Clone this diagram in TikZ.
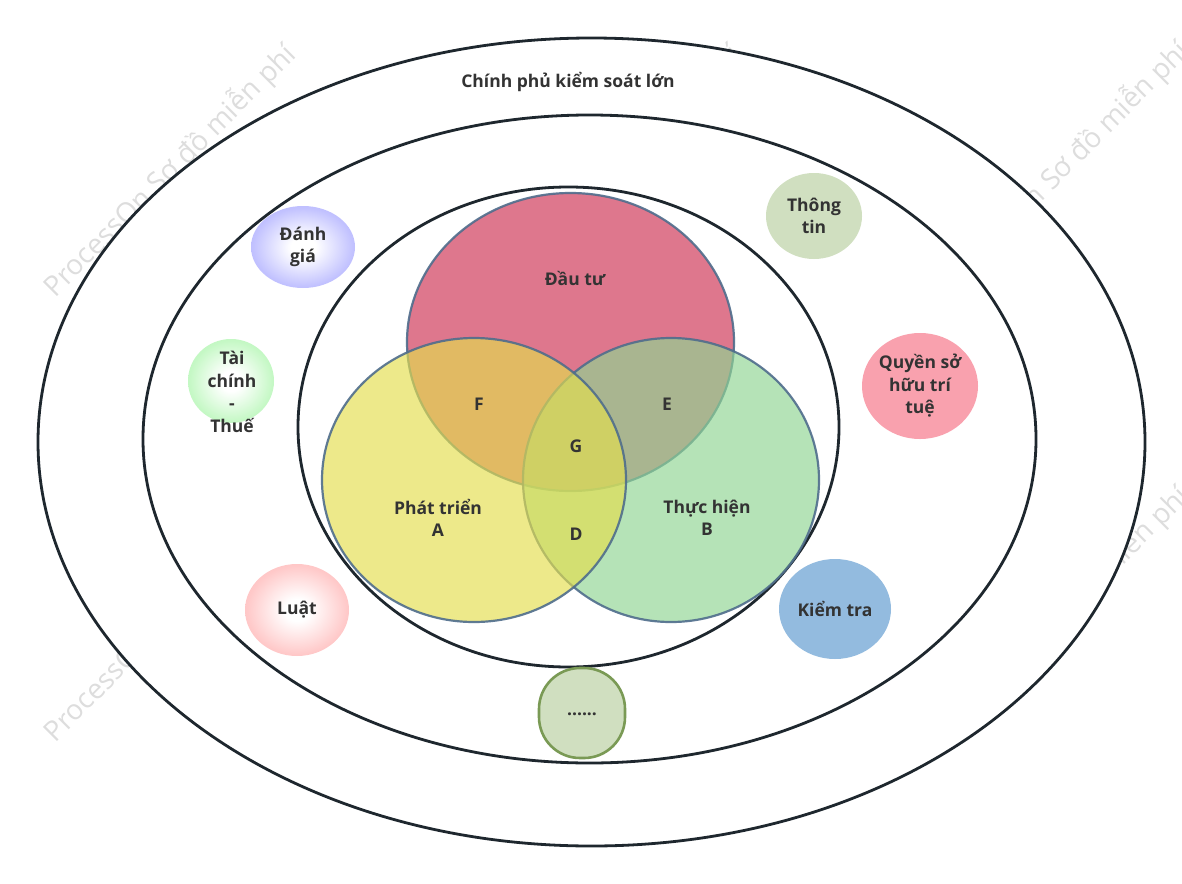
\documentclass[tikz,border=0pt]{standalone}
\usepackage{fontspec}
\setmainfont{Open Sans}
\usetikzlibrary{shapes.geometric}
\definecolor{ink}{HTML}{333333}
\definecolor{ringc}{HTML}{1E272E}
\definecolor{vennline}{HTML}{4F6D8C}
\definecolor{redv}{HTML}{CE3152}
\definecolor{yelv}{HTML}{E4DE4E}
\definecolor{grnv}{HTML}{8FD693}
\definecolor{wmc}{HTML}{DDDDDD}
\definecolor{infoc}{HTML}{D0DFC0}
\definecolor{ipc}{HTML}{F9A1AE}
\definecolor{checkc}{HTML}{93BBDF}
\definecolor{moreborder}{HTML}{7A9A55}
\definecolor{bluee}{HTML}{9C9CFF}
\definecolor{greene}{HTML}{A2F4A2}
\definecolor{pinke}{HTML}{FFA8A8}
\pgfdeclareradialshading{bubblue}{\pgfpoint{0bp}{0bp}}{color(0bp)=(white); color(6bp)=(white); color(24bp)=(bluee!62!white); color(44bp)=(bluee); color(50bp)=(bluee)}
\pgfdeclareradialshading{bubgreen}{\pgfpoint{0bp}{0bp}}{color(0bp)=(white); color(6bp)=(white); color(24bp)=(greene!62!white); color(44bp)=(greene); color(50bp)=(greene)}
\pgfdeclareradialshading{bubpink}{\pgfpoint{0bp}{0bp}}{color(0bp)=(white); color(6bp)=(white); color(24bp)=(pinke!62!white); color(44bp)=(pinke); color(50bp)=(pinke)}
\tikzset{
  ringst/.style={ellipse, draw=ringc, line width=2.8pt, fill=white, inner sep=0pt},
  vennst/.style={ellipse, draw=vennline, line width=2.2pt, draw opacity=0.9, fill opacity=0.66, inner sep=0pt},
  bubst/.style={ellipse, inner sep=0pt},
  lbl/.style={font=\bfseries\fontsize{17.5}{22.5}\selectfont, text=ink, align=center, inner sep=0pt},
  wmark/.style={font=\fontsize{28}{28}\selectfont, text=wmc, rotate=45, inner sep=0pt}
}
\begin{document}
\begin{tikzpicture}[x=1pt, y=-1pt]
\useasboundingbox (0,0) rectangle (1182,883);
% watermarks
\node[wmark] (wm1) at (170,171) {ProcessOn Sơ đồ miễn phí};
\node[wmark] (wm2) at (615,171) {ProcessOn Sơ đồ miễn phí};
\node[wmark] (wm3) at (1063,168) {ProcessOn Sơ đồ miễn phí};
\node[wmark] (wm4) at (170,616) {ProcessOn Sơ đồ miễn phí};
\node[wmark] (wm5) at (615,616) {ProcessOn Sơ đồ miễn phí};
\node[wmark] (wm6) at (1063,613) {ProcessOn Sơ đồ miễn phí};
% rings
\node[ringst, minimum width=1107, minimum height=808] (outer) at (591.5,442) {};
\node[ringst, minimum width=893, minimum height=648] (mid) at (589.5,439) {};
\node[ringst, minimum width=541, minimum height=480] (inner) at (568.5,427) {};
% venn
\node[vennst, fill=redv, minimum width=327, minimum height=298] (invest) at (570.5,342) {};
\node[vennst, fill=grnv, minimum width=296, minimum height=284] (impl) at (671,480) {};
\node[vennst, fill=yelv, minimum width=304, minimum height=284] (dev) at (474,480) {};
% bubbles
\node[bubst, shading=bubblue, minimum width=104, minimum height=82] (eval) at (303,247) {};
\node[bubst, shading=bubgreen, minimum width=86, minimum height=84] (fin) at (231,381) {};
\node[bubst, shading=bubpink, minimum width=104, minimum height=92] (law) at (297,610) {};
\node[bubst, fill=infoc, minimum width=96, minimum height=86] (info) at (814,216) {};
\node[bubst, fill=ipc, minimum width=116, minimum height=106] (ip) at (920,386) {};
\node[bubst, fill=checkc, minimum width=112, minimum height=100] (check) at (835,609) {};
\node[draw=moreborder, line width=2.6pt, fill=infoc, rounded corners=41pt, minimum width=86, minimum height=90, inner sep=0pt] (more) at (582,713) {};
% labels
\node[lbl] (title) at (568,82) {Chính phủ kiểm soát lớn};
\node[lbl] (tinvest) at (575,278) {Đầu tư};
\node[lbl] (tF) at (479,404) {F};
\node[lbl] (tE) at (667,404) {E};
\node[lbl] (tG) at (576,446) {G};
\node[lbl] (tD) at (576,534) {D};
\node[lbl] (tdev) at (438,518) {Phát triển\\A};
\node[lbl] (timpl) at (707,518) {Thực hiện\\B};
\node[lbl] (teval) at (eval.center) {Đánh\\giá};
\node[lbl] (tfin) at (232,392) {Tài\\chính\\-\\Thuế};
\node[lbl] (tlaw) at (law.center) {Luật};
\node[lbl] (tinfo) at (info.center) {Thông\\tin};
\node[lbl] (tip) at (ip.center) {Quyền sở\\hữu trí\\tuệ};
\node[lbl] (tcheck) at (check.center) {Kiểm tra};
\node[lbl] (tmore) at (582,714) {......};
\end{tikzpicture}
\end{document}
